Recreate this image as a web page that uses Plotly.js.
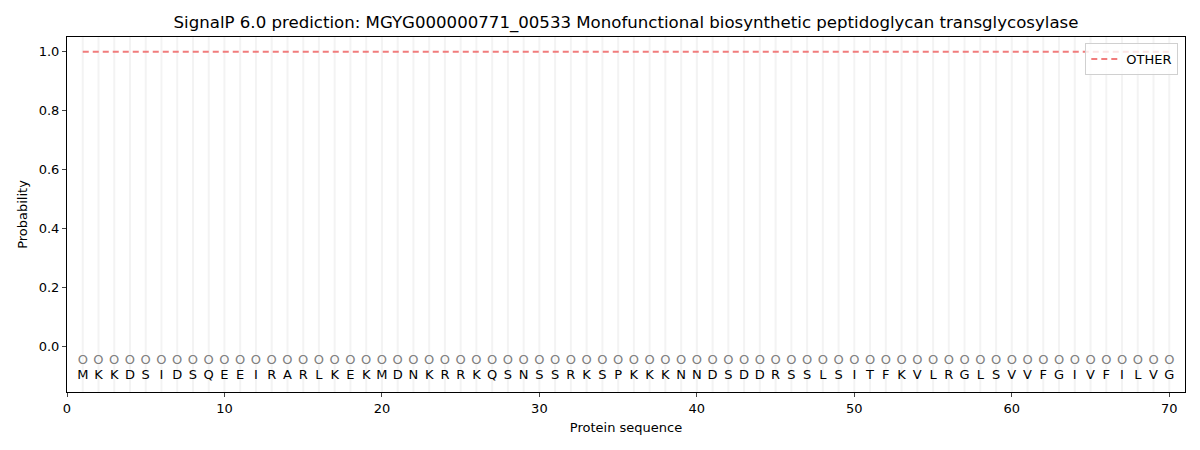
<!DOCTYPE html>
<html>
<head>
<meta charset="utf-8">
<script src="https://cdn.plot.ly/plotly-3.0.1.min.js"></script>
<style>
  body { margin: 0; background: white; }
  #chart { width: 1200px; height: 450px; }
</style>
</head>
<body>
<div id="chart"></div>
<script>
// sequence + per-residue OTHER probability
var sequence = "MKKDSIDSQEEIRARLKEKMDNKRRKQSNSSRKSPKKKNNDSDDRSSLSITFKVLRGLSVVFGIVFILVG".split("")
var positions = []
for (var i = 0; i < sequence.length; i++) positions.push(i + 1)
var otherProb = []
for (var i = 0; i < sequence.length; i++) otherProb.push(1.0)
var predLabels = []
for (var i = 0; i < sequence.length; i++) predLabels.push("O")

var circleY = -0.047
var letterY = -0.097

var lineTrace = {
    name: 'OTHER',
    x: positions,
    y: otherProb,
    mode: 'lines',
    line: { color: 'rgba(240,110,110,0.9)', width: 2, dash: '6px,4px' },
    hoverinfo: 'skip'
}

var circleTrace = {
    x: positions,
    y: positions.map(function () { return circleY }),
    mode: 'text',
    text: predLabels,
    textfont: { family: 'DejaVu Sans', size: 13, color: '#808080' },
    showlegend: false,
    hoverinfo: 'skip'
}

var letterTrace = {
    x: positions,
    y: positions.map(function () { return letterY }),
    mode: 'text',
    text: sequence,
    textfont: { family: 'DejaVu Sans', size: 13, color: 'black' },
    showlegend: false,
    hoverinfo: 'skip'
}

var layout = {
    width: 1200,
    height: 450,
    margin: { l: 67, r: 15, t: 37, b: 58, pad: 0 },
    paper_bgcolor: 'white',
    plot_bgcolor: 'white',
    font: { family: 'DejaVu Sans', size: 13, color: 'black' },
    title: {
        text: 'SignalP 6.0 prediction: MGYG000000771_00533 Monofunctional biosynthetic peptidoglycan transglycosylase',
        font: { size: 16.6, color: 'black' },
        xref: 'paper', x: 0.5, xanchor: 'center', y: 0.951, yanchor: 'middle'
    },
    showlegend: true,
    legend: {
        x: 0.994, xanchor: 'right', y: 0.983, yanchor: 'top',
        bgcolor: 'rgba(255,255,255,0.8)',
        bordercolor: '#d0d0d0', borderwidth: 1,
        font: { size: 13 }
    },
    xaxis: {
        range: [0, 71],
        tickvals: [0, 10, 20, 30, 40, 50, 60, 70],
        ticks: 'outside', ticklen: 4,
        showgrid: false,
        zeroline: false,
        showline: true, linecolor: 'black', mirror: true,
        title: { text: 'Protein sequence', font: { size: 13 }, standoff: 8 }
    },
    yaxis: {
        range: [-0.153, 1.05],
        tickvals: [0, 0.2, 0.4, 0.6, 0.8, 1.0],
        ticktext: ['0.0', '0.2', '0.4', '0.6', '0.8', '1.0'],
        ticks: 'outside', ticklen: 4,
        showgrid: false,
        zeroline: false,
        showline: true, linecolor: 'black', mirror: true,
        title: { text: 'Probability', font: { size: 13 }, standoff: 8 }
    },
    shapes: positions.map(function (p) {
        return {
            type: 'line', xref: 'x', yref: 'paper',
            x0: p, x1: p, y0: 0, y1: 1,
            line: { color: 'rgba(200,200,200,0.22)', width: 2 },
            layer: 'below'
        }
    })
}

var config = { responsive: false, displayModeBar: false }

Plotly.newPlot('chart', [lineTrace, circleTrace, letterTrace], layout, config)
</script>
</body>
</html>
